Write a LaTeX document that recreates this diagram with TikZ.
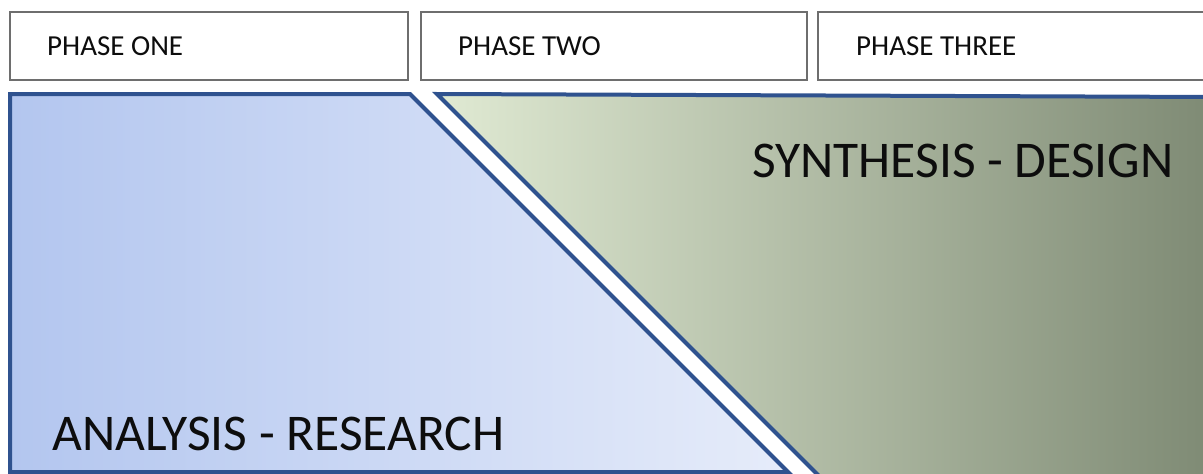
\documentclass[tikz,border=0pt]{standalone}
\usepackage{fontspec}
\setmainfont{Carlito}
\definecolor{edgeblue}{HTML}{2F528F}
\definecolor{boxgray}{HTML}{6E6E6E}
\definecolor{blueL}{HTML}{B3C6EF}
\definecolor{blueR}{HTML}{E6ECFA}
\definecolor{greenL}{HTML}{E0EAD3}
\definecolor{greenR}{HTML}{7E8A74}
\tikzset{
  phasebox/.style={draw=boxgray, line width=1.2pt, fill=white},
  phaselabel/.style={anchor=west, inner sep=0pt, font=\fontsize{29}{32}\selectfont, text=black!95},
  biglabel/.style={anchor=base west, inner sep=0pt, font=\fontsize{51.5}{56}\selectfont, text=black!95},
  panel/.style={draw=edgeblue, line width=4pt, line join=miter}
}
\begin{document}
\begin{tikzpicture}[x=1pt,y=-1pt]
\useasboundingbox (0,0) rectangle (1203,474);
\clip (0,0) rectangle (1203,474);
% phase boxes
\draw[phasebox] (10,12) rectangle (408,80);
\draw[phasebox] (421,12) rectangle (807,80);
\draw[phasebox] (818,12) rectangle (1215,80);
\node[phaselabel] (p1) at (47,46.5) {PHASE ONE};
\node[phaselabel] (p2) at (458,46.5) {PHASE TWO};
\node[phaselabel] (p3) at (856,46.5) {PHASE THREE};
% blue panel
\path[left color=blueL, right color=blueR] (10,94) -- (410,94) -- (788,472) -- (10,472) -- cycle;
\draw[panel] (10,94) -- (410,94) -- (788,472) -- (10,472) -- cycle;
% green panel
\path[left color=greenL, right color=greenR] (437,94) -- (1215,97) -- (1215,490) -- (833,490) -- cycle;
\draw[panel] (833,490) -- (437,94) -- (1215,97);
\node[biglabel] (an) at (52,450) {ANALYSIS - RESEARCH};
\node[biglabel] (sy) at (752,177) {SYNTHESIS - DESIGN};
\end{tikzpicture}
\end{document}
